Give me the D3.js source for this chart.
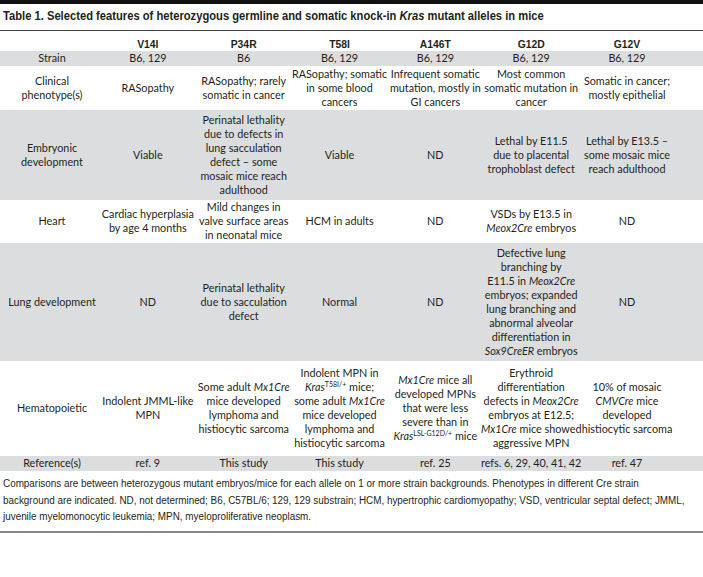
<!DOCTYPE html>
<html lang="en">
<head>
    <meta charset="UTF-8">
    <title>Table 1</title>
    <script src="https://d3js.org/d3.v7.min.js"></script>
    <style>
        body { margin: 0; background: #fff; }
        .band { fill: #dcdddf; }
        .cell { font-family: Lato, sans-serif; font-size: 10.8px; fill: #231f20; }
        .head { font-family: "Liberation Sans", sans-serif; font-weight: bold; font-size: 11.5px; fill: #231f20; }
        .title { font-family: "Liberation Sans", sans-serif; font-weight: bold; font-size: 13px; fill: #231f20; }
        .note { font-family: "Liberation Sans", sans-serif; font-size: 11.5px; fill: #231f20; }
    </style>
</head>
<body>
    <svg width="703" height="577"></svg>
    <script>
        // *x* = italic, ^x^ = superscript
        const title = "Table 1. Selected features of heterozygous germline and somatic knock-in *Kras* mutant alleles in mice";
        const alleles = ["V14I", "P34R", "T58I", "A146T", "G12D", "G12V"];
        const rowLabels = [
            ["Strain"],
            ["Clinical", "phenotype(s)"],
            ["Embryonic", "development"],
            ["Heart"],
            ["Lung development"],
            ["Hematopoietic"],
            ["Reference(s)"]
        ];
        const strain = [["B6, 129"], ["B6"], ["B6, 129"], ["B6, 129"], ["B6, 129"], ["B6, 129"]];
        const clinical = [
            ["RASopathy"],
            ["RASopathy; rarely", "somatic in cancer"],
            ["RASopathy; somatic", "in some blood", "cancers"],
            ["Infrequent somatic", "mutation, mostly in", "GI cancers"],
            ["Most common", "somatic mutation in", "cancer"],
            ["Somatic in cancer;", "mostly epithelial"]
        ];
        const embryonic = [
            ["Viable"],
            ["Perinatal lethality", "due to defects in", "lung sacculation", "defect \u2013 some", "mosaic mice reach", "adulthood"],
            ["Viable"],
            ["ND"],
            ["Lethal by E11.5", "due to placental", "trophoblast defect"],
            ["Lethal by E13.5 \u2013", "some mosaic mice", "reach adulthood"]
        ];
        const heart = [
            ["Cardiac hyperplasia", "by age 4 months"],
            ["Mild changes in", "valve surface areas", "in neonatal mice"],
            ["HCM in adults"],
            ["ND"],
            ["VSDs by E13.5 in", "*Meox2Cre* embryos"],
            ["ND"]
        ];
        const lung = [
            ["ND"],
            ["Perinatal lethality", "due to sacculation", "defect"],
            ["Normal"],
            ["ND"],
            ["Defective lung", "branching by", "E11.5 in *Meox2Cre*", "embryos; expanded", "lung branching and", "abnormal alveolar", "differentiation in", "*Sox9CreER* embryos"],
            ["ND"]
        ];
        const hematopoietic = [
            ["Indolent JMML-like", "MPN"],
            ["Some adult *Mx1Cre*", "mice developed", "lymphoma and", "histiocytic sarcoma"],
            ["Indolent MPN in", "*Kras*^T58I/+^ mice;", "some adult *Mx1Cre*", "mice developed", "lymphoma and", "histiocytic sarcoma"],
            ["*Mx1Cre* mice all", "developed MPNs", "that were less", "severe than in", "*Kras*^LSL-G12D/+^ mice"],
            ["Erythroid", "differentiation", "defects in *Meox2Cre*", "embryos at E12.5;", "*Mx1Cre* mice showed", "aggressive MPN"],
            ["10% of mosaic", "*CMVCre* mice", "developed", "histiocytic sarcoma"]
        ];
        const references = [["ref. 9"], ["This study"], ["This study"], ["ref. 25"], ["refs. 6, 29, 40, 41, 42"], ["ref. 47"]];
        const footnote = [
            "Comparisons are between heterozygous mutant embryos/mice for each allele on 1 or more strain backgrounds. Phenotypes in different Cre strain",
            "background are indicated. ND, not determined; B6, C57BL/6; 129, 129 substrain; HCM, hypertrophic cardiomyopathy; VSD, ventricular septal defect; JMML,",
            "juvenile myelomonocytic leukemia; MPN, myeloproliferative neoplasm."
        ];

        const rows = [strain, clinical, embryonic, heart, lung, hematopoietic, references];
        // layout
        const rowHeights = [15, 44, 90, 43, 118, 95, 15];
        const tableTop = 51;
        const lineH = 14;

        const svg = d3.select("svg"),
              width = +svg.attr("width");

        const x = d3.scalePoint()
            .domain(["label"].concat(alleles))
            .range([52, 627]);

        const rowTops = rowHeights.map((h, i) => tableTop + d3.sum(rowHeights.slice(0, i)));

        // write a line with *italic* and ^super^ pieces
        function richLine(text, str) {
            const parts = str.split(/(\*[^*]+\*|\^[^^]+\^)/).filter(p => p.length);
            let shifted = false;
            parts.forEach(p => {
                const t = text.append("tspan");
                if (p[0] === "*") {
                    t.attr("font-style", "italic").text(p.slice(1, -1));
                } else if (p[0] === "^") {
                    t.attr("font-size", "7px").attr("dy", -4).text(p.slice(1, -1));
                    shifted = true;
                    return;
                } else {
                    t.text(p);
                }
                if (shifted) { t.attr("dy", 4); shifted = false; }
            });
        }

        function cellText(lines, cx, cy, cls) {
            const g = svg.append("g");
            const y0 = cy - (lines.length - 1) * lineH / 2;
            lines.forEach((ln, i) => {
                const t = g.append("text")
                    .attr("class", cls)
                    .attr("x", cx)
                    .attr("y", y0 + i * lineH)
                    .attr("dy", "0.35em")
                    .attr("text-anchor", "middle");
                richLine(t, ln);
            });
        }

        // squeeze a left-aligned text horizontally (condensed face)
        function squeeze(text, x0, y0, k) {
            text.attr("x", 0).attr("y", 0)
                .attr("transform", `translate(${x0},${y0}) scale(${k},1)`);
        }

        // top bar and rules
        svg.append("rect").attr("x", 0).attr("y", 0).attr("width", width).attr("height", 4).attr("fill", "#111");
        svg.append("line").attr("x1", 0).attr("x2", width).attr("y1", 30.5).attr("y2", 30.5)
            .attr("stroke", "#444").attr("stroke-width", 1);

        // title
        const tt = svg.append("text").attr("class", "title");
        richLine(tt, title);
        squeeze(tt, 3, 20, 541 / tt.node().getComputedTextLength());

        // gray bands
        svg.selectAll(".band")
            .data(rowHeights.map((h, i) => ({ h, top: rowTops[i], i })).filter(d => d.i % 2 === 0))
            .enter().append("rect")
            .attr("class", "band")
            .attr("x", 0)
            .attr("width", width)
            .attr("y", d => d.top)
            .attr("height", d => d.h);

        // header
        svg.selectAll(".head")
            .data(alleles)
            .enter().append("text")
            .attr("class", "head")
            .attr("transform", d => `translate(${x(d)},44) scale(0.9,1)`)
            .attr("dy", "0.35em")
            .attr("text-anchor", "middle")
            .text(d => d);

        // body
        rows.forEach((row, r) => {
            const cy = rowTops[r] + rowHeights[r] / 2;
            cellText(rowLabels[r], x("label"), cy, "cell");
            row.forEach((cell, c) => cellText(cell, x(alleles[c]), cy, "cell"));
        });

        // footnote
        const noteTop = rowTops[rowTops.length - 1] + rowHeights[rowHeights.length - 1];
        const notes = footnote.map(ln => svg.append("text").attr("class", "note").text(ln));
        const kNote = 636 / notes[0].node().getComputedTextLength();
        notes.forEach((t, i) => squeeze(t, 3, noteTop + 16 + i * 16.5, kNote));
        svg.append("line").attr("x1", 0).attr("x2", width)
            .attr("y1", noteTop + 61).attr("y2", noteTop + 61)
            .attr("stroke", "#888").attr("stroke-width", 2);
    </script>
</body>
</html>
